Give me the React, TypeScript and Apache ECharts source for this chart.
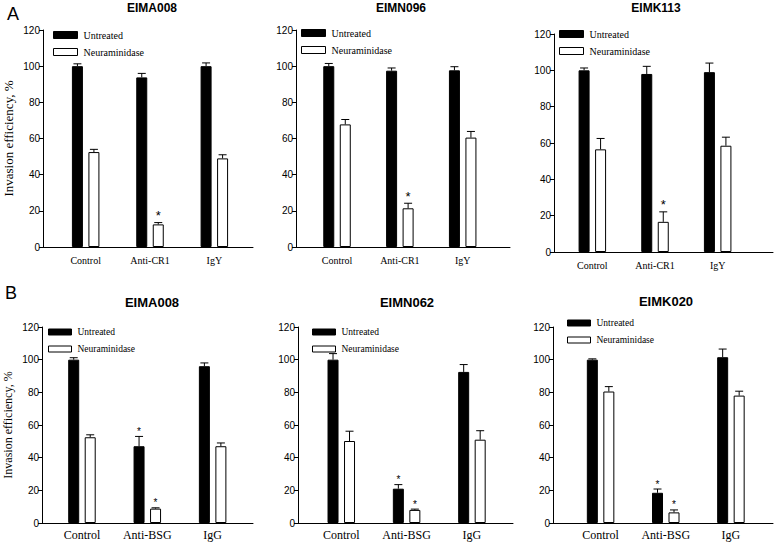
import React, { useEffect, useRef } from 'react';
import * as echarts from 'echarts';

// ---------- data ----------
const panelTitles = ['EIMA008', 'EIMN096', 'EIMK113', 'EIMA008', 'EIMN062', 'EIMK020'];
const categoriesA = ['Control', 'Anti-CR1', 'IgY'];
const categoriesB = ['Control', 'Anti-BSG', 'IgG'];
const seriesNames = ['Untreated', 'Neuraminidase'];
const yMin = 0;
const yMax = 120;
const yStep = 20;
const yAxisTitle = 'Invasion efficiency, %';
const rowLetters = ['A', 'B'];

const untreated = [
  [100, 93.8, 100],
  [100, 97.5, 97.7],
  [100, 98, 99],
  [100, 47, 96],
  [100, 21, 92.5],
  [100, 18.5, 101.5],
];
const untreatedErr = [
  [1.3, 2.2, 1.8],
  [1.5, 1.5, 2],
  [1.3, 4.2, 5],
  [1.2, 6, 2],
  [3.7, 2.5, 4.5],
  [0.5, 2.3, 5],
];
const neuraminidase = [
  [52.5, 12.5, 49],
  [67.8, 21.4, 60.5],
  [56.5, 16.6, 58.5],
  [52.5, 8.8, 47],
  [50.2, 8, 51],
  [80.5, 6.5, 78],
];
const neuraminidaseErr = [
  [1.5, 1, 2],
  [2.7, 2.8, 3.4],
  [6, 5.5, 4.7],
  [1.5, 0.5, 2],
  [6, 0.5, 5.5],
  [3, 1.5, 2.7],
];
const untreatedSig = [
  [0, 0, 0],
  [0, 0, 0],
  [0, 0, 0],
  [0, 1, 0],
  [0, 1, 0],
  [0, 1, 0],
];
const neuraminidaseSig = [
  [0, 1, 0],
  [0, 1, 0],
  [0, 1, 0],
  [0, 1, 0],
  [0, 1, 0],
  [0, 1, 0],
];

// ---------- layout ----------
// l/r: frame (axis) extent; bl/bw: band area where the three groups sit
const layouts = [
  { l: 43, r: 253, bl: 53.5, bw: 193, t: 30, b: 247, lgX: 53, lgY: 30, tX: 152, tY: 8 },
  { l: 296, r: 510, bl: 305.6, bw: 188.5, t: 30, b: 247, lgX: 301, lgY: 28, tX: 401, tY: 8 },
  { l: 554, r: 773, bl: 561, bw: 188, t: 34, b: 252, lgX: 559, lgY: 29, tX: 656, tY: 8 },
  { l: 42, r: 253, bl: 49.3, bw: 196, t: 327, b: 523, lgX: 48, lgY: 327, tX: 152, tY: 302 },
  { l: 298, r: 513, bl: 308.6, bw: 196, t: 327, b: 523, lgX: 312, lgY: 327, tX: 407, tY: 302 },
  { l: 553, r: 773, bl: 568, bw: 195.5, t: 327, b: 523, lgX: 567, lgY: 318, tX: 666, tY: 301 },
];
const rowStyles = [
  { cat: 10, legend: 10, title: 12, star: 13, starGap: 7, labelMargin: 8, iw: 24, ih: 7, yName: 13, nameGap: 28 },
  { cat: 12, legend: 9.5, title: 13, star: 10, starGap: 5, labelMargin: 6, iw: 23, ih: 6, yName: 12, nameGap: 28 },
];
const letterPos = [
  { x: 13, y: 14 },
  { x: 11, y: 293 },
];

const BAR_W = 11;
const BAR_GAP = 5.5;
const CAP_W = 8;
const SANS = "'Liberation Sans', Arial, sans-serif";
const SERIF = "'Liberation Serif', 'Times New Roman', serif";

function buildOption() {
  const grid: any[] = [];
  const xAxis: any[] = [];
  const yAxis: any[] = [];
  const legend: any[] = [];
  const series: any[] = [];
  const graphic: any[] = [];
  const N = layouts.length;

  // bar grids 0..5
  layouts.forEach((L, p) => {
    const row = p < 3 ? 0 : 1;
    const S = rowStyles[row];
    const cats = row === 0 ? categoriesA : categoriesB;
    grid.push({ left: L.bl, top: L.t, width: L.bw, height: L.b - L.t, containLabel: false });
    xAxis.push({
      type: 'category',
      gridIndex: p,
      data: cats,
      axisLine: { show: false },
      axisTick: { show: false },
      axisLabel: { color: '#000', fontFamily: SERIF, fontSize: S.cat, margin: S.labelMargin },
      splitLine: { show: false },
    });
    yAxis.push({
      type: 'value',
      gridIndex: p,
      min: yMin,
      max: yMax,
      interval: yStep,
      show: false,
      splitLine: { show: false },
    });
  });

  // frame grids 6..11 (axis lines, ticks, y labels)
  layouts.forEach((L, p) => {
    const row = p < 3 ? 0 : 1;
    const S = rowStyles[row];
    grid.push({ left: L.l, top: L.t, width: L.r - L.l, height: L.b - L.t, containLabel: false });
    xAxis.push({
      type: 'value',
      gridIndex: N + p,
      min: 0,
      max: 1,
      axisLine: { show: true, onZero: false, lineStyle: { color: '#000', width: 1 } },
      axisTick: { show: false },
      axisLabel: { show: false },
      splitLine: { show: false },
    });
    yAxis.push({
      type: 'value',
      gridIndex: N + p,
      min: yMin,
      max: yMax,
      interval: yStep,
      name: p % 3 === 0 ? yAxisTitle : '',
      nameLocation: 'middle',
      nameRotate: 90,
      nameGap: S.nameGap,
      nameTextStyle: { color: '#000', fontFamily: SERIF, fontSize: S.yName },
      axisLine: { show: true, lineStyle: { color: '#000', width: 1 } },
      axisTick: { show: true, inside: false, length: 4, lineStyle: { color: '#000' } },
      axisLabel: { color: '#000', fontFamily: SANS, fontSize: 10, margin: 3 },
      splitLine: { show: false },
    });
  });

  layouts.forEach((L, p) => {
    const row = p < 3 ? 0 : 1;
    const S = rowStyles[row];
    legend.push({
      orient: 'vertical',
      left: L.lgX,
      top: L.lgY,
      padding: 0,
      itemWidth: S.iw,
      itemHeight: S.ih,
      itemGap: 7,
      icon: 'rect',
      selectedMode: false,
      data: [
        { name: seriesNames[0], itemStyle: { color: '#000', borderColor: '#000', borderWidth: 1 } },
        { name: seriesNames[1], itemStyle: { color: '#fff', borderColor: '#000', borderWidth: 1 } },
      ],
      textStyle: { color: '#000', fontFamily: SERIF, fontSize: S.legend, padding: [0, 0, 0, 1] },
    });

    const groups = [
      { name: seriesNames[0], vals: untreated[p], errs: untreatedErr[p], sig: untreatedSig[p], style: { color: '#000', borderColor: '#000', borderWidth: 1 }, off: -(BAR_W + BAR_GAP) / 2 },
      { name: seriesNames[1], vals: neuraminidase[p], errs: neuraminidaseErr[p], sig: neuraminidaseSig[p], style: { color: '#fff', borderColor: '#000', borderWidth: 1 }, off: (BAR_W + BAR_GAP) / 2 },
    ];
    groups.forEach((g) => {
      series.push({
        type: 'bar',
        name: g.name,
        xAxisIndex: p,
        yAxisIndex: p,
        data: g.vals,
        barWidth: BAR_W,
        barGap: (BAR_GAP / BAR_W) * 100 + '%',
        itemStyle: g.style,
        emphasis: { disabled: true },
      });
    });
    groups.forEach((g, gi) => {
      const off = g.off;
      series.push({
        type: 'custom',
        name: 'err-' + p + '-' + gi,
        xAxisIndex: p,
        yAxisIndex: p,
        z: 5,
        clip: false,
        itemStyle: { color: '#000' },
        encode: { x: 0, y: 1 },
        data: g.vals.map((v, i) => [i, v, g.errs[i], g.sig[i]]),
        renderItem: (params: any, api: any) => {
          const idx = api.value(0);
          const v = api.value(1);
          const e = api.value(2);
          const s = api.value(3);
          const base = api.coord([idx, v]);
          const top = api.coord([idx, v + e]);
          const x = base[0] + off;
          const children: any[] = [
            { type: 'line', shape: { x1: x, y1: base[1], x2: x, y2: top[1] }, style: { stroke: '#000', lineWidth: 1 } },
            { type: 'line', shape: { x1: x - CAP_W / 2, y1: top[1], x2: x + CAP_W / 2, y2: top[1] }, style: { stroke: '#000', lineWidth: 1 } },
          ];
          if (s) {
            children.push({
              type: 'text',
              x: x,
              y: top[1] - S.starGap,
              style: { text: '*', fill: '#000', fontSize: S.star, fontFamily: SANS, align: 'center', verticalAlign: 'middle' },
            });
          }
          return { type: 'group', children };
        },
      });
    });

    graphic.push({
      type: 'text',
      x: L.tX,
      y: L.tY,
      style: { text: panelTitles[p], fill: '#000', font: `bold ${S.title}px ${SANS}`, textAlign: 'center', textVerticalAlign: 'middle' },
    });
  });

  rowLetters.forEach((t, i) => {
    graphic.push({
      type: 'text',
      x: letterPos[i].x,
      y: letterPos[i].y,
      style: { text: t, fill: '#000', font: `18px ${SANS}`, textAlign: 'center', textVerticalAlign: 'middle' },
    });
  });

  return {
    animation: false,
    backgroundColor: '#fff',
    grid,
    xAxis,
    yAxis,
    legend,
    series,
    graphic,
  };
}

export default function App() {
  const ref = useRef<HTMLDivElement>(null);
  useEffect(() => {
    if (!ref.current) return;
    const chart = echarts.init(ref.current, undefined, { renderer: 'svg' });
    chart.setOption(buildOption() as any);
    return () => chart.dispose();
  }, []);
  return <div ref={ref} style={{ position: 'absolute', left: 0, top: 0, width: 775, height: 543, background: '#fff' }} />;
}
